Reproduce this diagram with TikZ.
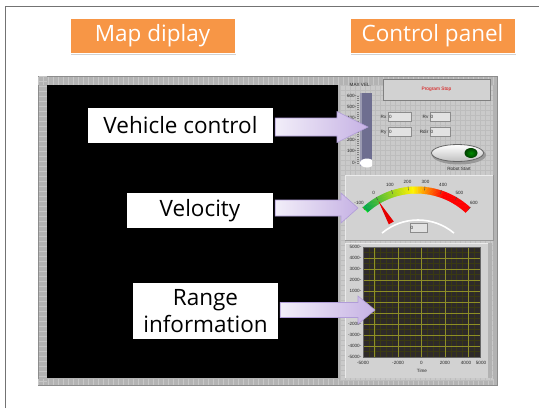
\documentclass[tikz,border=0pt]{standalone}
\usepackage{fontspec}
\setmainfont{Open Sans}
\newfontfamily\ui{Liberation Sans}
\usetikzlibrary{calc,shadows}
\definecolor{orng}{HTML}{F79646}
\definecolor{framegray}{HTML}{B3B3B3}
\definecolor{panelgray}{HTML}{CACACA}
\definecolor{panelgrid}{HTML}{BDBDBD}
\definecolor{subpanel}{HTML}{D2D2D2}
\definecolor{minorgrid}{HTML}{3A3A12}
\definecolor{majorgrid}{HTML}{8E8E26}
\definecolor{arrowL}{HTML}{F2EEF9}
\definecolor{arrowR}{HTML}{C6B2E4}
\definecolor{arrowB}{HTML}{B09CD8}
\definecolor{slider}{HTML}{6E6E90}
\definecolor{fieldfill}{HTML}{E2E2E2}
\begin{document}
\begin{tikzpicture}[x=1pt,y=-1pt,
  titlebox/.style={fill=orng, draw=white, line width=0.8pt,
    drop shadow={shadow xshift=1pt, shadow yshift=-1.5pt, opacity=0.35},
    text=white, font=\fontsize{22.5}{26}\selectfont, minimum width=165pt,
    minimum height=35pt, inner sep=0pt},
  labelbox/.style={fill=white, text=black, font=\fontsize{22.5}{27}\selectfont,
    inner sep=0pt, align=center},
  tiny/.style={font=\ui\fontsize{4.6}{5}\selectfont, inner sep=0.5pt, text=black!85},
  fieldbox/.style={fill=fieldfill, draw=black!45, line width=0.4pt},
  blockarrow/.style={left color=arrowL, right color=arrowR, draw=arrowB, line width=0.6pt},
]
\useasboundingbox (0,0) rectangle (539,408);
\fill[white] (0,0) rectangle (539,408);
% outer slide border
\draw[black!55, line width=1pt] (5,408) -- (5,6) -- (539,6);

% title boxes
\node[titlebox] (map) at (152.5,35.5) {Map diplay};
\node[titlebox] (cp) at (432.5,35.5) {Control panel};

% screenshot frame
\fill[framegray] (38,76) rectangle (497,385);
\draw[black!45, line width=0.6pt] (38,76) rectangle (497,385);
\foreach \i in {0,...,91} { \draw[black!22, line width=0.3pt] (38+\i*5,76.5) -- (38+\i*5,84.5); }
\foreach \i in {0,...,91} { \draw[black!22, line width=0.3pt] (38+\i*5,378.5) -- (38+\i*5,384.5); }
\foreach \i in {0,...,61} { \draw[black!22, line width=0.3pt] (38.5,76+\i*5) -- (46.5,76+\i*5); }
% map display (black)
\fill[black] (47,85) rectangle (338,378);
% right panel
\fill[panelgray] (340,85) rectangle (493,381);
\foreach \i in {0,...,30} { \draw[panelgrid, line width=0.3pt] (340+\i*5,85) -- (340+\i*5,381); }
\foreach \i in {0,...,59} { \draw[panelgrid, line width=0.3pt] (340,85+\i*5) -- (493,85+\i*5); }

% ---- vehicle control area ----
\node[tiny, anchor=west] (maxvel) at (349,85) {MAX VEL.};
\fill[slider] (360,93) rectangle (372,166);
\fill[slider!70!white] (360,93) rectangle (362,166);
\begin{scope}
  \clip (360,93) rectangle (372,167);
  \fill[white] (367,163) ellipse [x radius=7, y radius=4.5];
\end{scope}
\foreach \k in {0,...,30} { \draw[black!50, line width=0.25pt] (357,96+\k*2.25) -- (358.5,96+\k*2.25); }
\foreach \lab/\yy in {600/96,500/107,400/118,200/140,100/151,0/163}
  { \node[tiny, anchor=east] (s\lab) at (357,\yy) {\lab-}; }
\node[fill=subpanel, draw=black!50, line width=0.5pt, minimum width=107pt, minimum height=21pt,
  inner sep=0pt, text=red!85!black, font=\ui\fontsize{4.8}{5}\selectfont] (stop) at (436.5,89.5) {Program Stop};
\node[tiny, anchor=east] (rxl) at (387,117) {Rx};
\node[fieldbox, minimum width=23pt, minimum height=9pt, inner sep=0pt] (rx) at (400,117) {};
\node[tiny, anchor=west] at (rx.west) {0};
\node[tiny, anchor=east] (rvl) at (429,117) {Rv};
\node[fieldbox, minimum width=20pt, minimum height=9pt, inner sep=0pt] (rv) at (440,117) {};
\node[tiny, anchor=west] at (rv.west) {0};
\node[tiny, anchor=east] (ryl) at (387,132) {Ry};
\node[fieldbox, minimum width=23pt, minimum height=9pt, inner sep=0pt] (ry) at (400,132) {};
\node[tiny, anchor=west] at (ry.west) {0};
\node[tiny, anchor=east] (rdl) at (429,132) {Rdir};
\node[fieldbox, minimum width=20pt, minimum height=9pt, inner sep=0pt] (rd) at (440,132) {};
\node[tiny, anchor=west] at (rd.west) {0};
% robot start toggle
\fill[black!40] (459,155) ellipse [x radius=27, y radius=9.5];
\shade[top color=white, bottom color=black!25, draw=black!60, line width=0.8pt]
  (457.5,153) ellipse [x radius=26, y radius=8.5];
\shade[inner color=green!55!black, outer color=green!25!black] (471,153) ellipse [x radius=6.5, y radius=5];
\node[tiny] (rs) at (459,169) {Robot Start};

% ---- gauge ----
\fill[subpanel] (345,175) rectangle (493,240);
\draw[white!92!black, line width=0.8pt] (345,240) -- (345,175) -- (493,175);
\draw[black!40, line width=0.8pt] (493,175) -- (493,240) -- (345,240);
\coordinate (gc) at (416.5,266);
\foreach \v in {-100,-95,...,595} {
  \pgfmathsetmacro\aa{227.5+(\v+100)/700*85}
  \pgfmathsetmacro\ab{\aa+85/140+0.25}
  \pgfmathsetmacro\pa{min(100,max(0,(\v+100)/320*100))}
  \pgfmathsetmacro\pb{min(100,max(0,(\v-220)/200*100))}
  \colorlet{gy}{yellow!\pa!green}
  \colorlet{seg}{red!\pb!gy}
  \draw[seg, line width=7pt] ($(gc)+(\aa:76)$) arc[start angle=\aa, end angle=\ab, radius=76];
}
\foreach \v in {-100,0,...,600} {
  \pgfmathsetmacro\aa{227.5+(\v+100)/700*85}
  \draw[black!70, line width=0.4pt] ($(gc)+(\aa:76)$) -- ($(gc)+(\aa:80)$);
  \node[tiny] at ($(gc)+(\aa:85)$) {\v};
}
\pgfmathsetmacro\an{227.5+100/700*85}
\fill[red!90!black] ($(gc)+(\an:75)$) -- ($(gc)+(\an-3.3:50)$) -- ($(gc)+(\an+3.3:50)$) -- cycle;
\draw[white, line width=1.6pt] ($(418,276)+(230:56)$) arc[start angle=230, end angle=310, radius=56];
\node[fieldbox, minimum width=17pt, minimum height=9pt, inner sep=0pt] (disp) at (418.5,227.5) {};
\node[tiny, anchor=west] at (disp.west) {0};

% ---- graph ----
\fill[subpanel] (345,243) rectangle (488,378);
\fill[black!30] (488,243) rectangle (492,378);
\draw[white!92!black, line width=0.8pt] (345,378) -- (345,243) -- (488,243);
\fill[black!95!yellow] (363,247) rectangle (480,357);
\foreach \i in {0,...,20} { \draw[minorgrid, line width=0.4pt] (363+\i*5.85,247) -- (363+\i*5.85,357); }
\foreach \i in {0,...,20} { \draw[minorgrid, line width=0.4pt] (363,247+\i*5.5) -- (480,247+\i*5.5); }
\foreach \i in {1,3,5,7,9} { \draw[majorgrid, line width=0.6pt] (363+\i*11.7,247) -- (363+\i*11.7,357); }
\foreach \i in {1,...,9} { \draw[majorgrid, line width=0.6pt] (363,247+\i*11) -- (480,247+\i*11); }
\draw[black!60, line width=0.5pt] (363,247) rectangle (480,357);
\foreach \lab/\i in {5000/0,4000/1,3000/2,2000/3,1000/4,-2000/7,-3000/8,-4000/9,-5000/10}
  { \node[tiny, anchor=east] at (362,247+\i*11) {\lab-}; }
\foreach \lab/\xx in {-5000/363,-2000/398.1,0/421.5,2000/444.9,4000/466,5000/481}
  { \node[tiny] at (\xx,363) {\lab}; }
\node[tiny] (time) at (422,371) {Time};

% ---- label boxes ----
\node[labelbox, minimum width=185pt, minimum height=35pt] (vc) at (180.5,125.5) {Vehicle control};
\node[labelbox, minimum width=146pt, minimum height=35pt] (vel) at (200,210.5) {Velocity};
\node[labelbox, minimum width=145pt, minimum height=56pt] (rng) at (205.5,311) {Range\\information};

% ---- block arrows ----
\coordinate (t1) at (368,127);
\coordinate (t2) at (358,208);
\coordinate (t3) at (375,310);
\shade[blockarrow] let \p1=(vc.east), \p2=(t1) in
  (\x1+2pt,\y2+9pt) -- (\x2-31pt,\y2+9pt) -- (\x2-31pt,\y2+15.5pt) -- (\x2,\y2)
  -- (\x2-31pt,\y2-15.5pt) -- (\x2-31pt,\y2-9pt) -- (\x1+2pt,\y2-9pt) -- cycle;
\shade[blockarrow] let \p1=(vel.east), \p2=(t2) in
  (\x1+2pt,\y2+8pt) -- (\x2-17pt,\y2+8pt) -- (\x2-17pt,\y2+15pt) -- (\x2,\y2)
  -- (\x2-17pt,\y2-15pt) -- (\x2-17pt,\y2-8pt) -- (\x1+2pt,\y2-8pt) -- cycle;
\shade[blockarrow] let \p1=(rng.east), \p2=(t3) in
  (\x1+2pt,\y2+7.5pt) -- (\x2-17pt,\y2+7.5pt) -- (\x2-17pt,\y2+14pt) -- (\x2,\y2)
  -- (\x2-17pt,\y2-14pt) -- (\x2-17pt,\y2-7.5pt) -- (\x1+2pt,\y2-7.5pt) -- cycle;
\end{tikzpicture}
\end{document}
